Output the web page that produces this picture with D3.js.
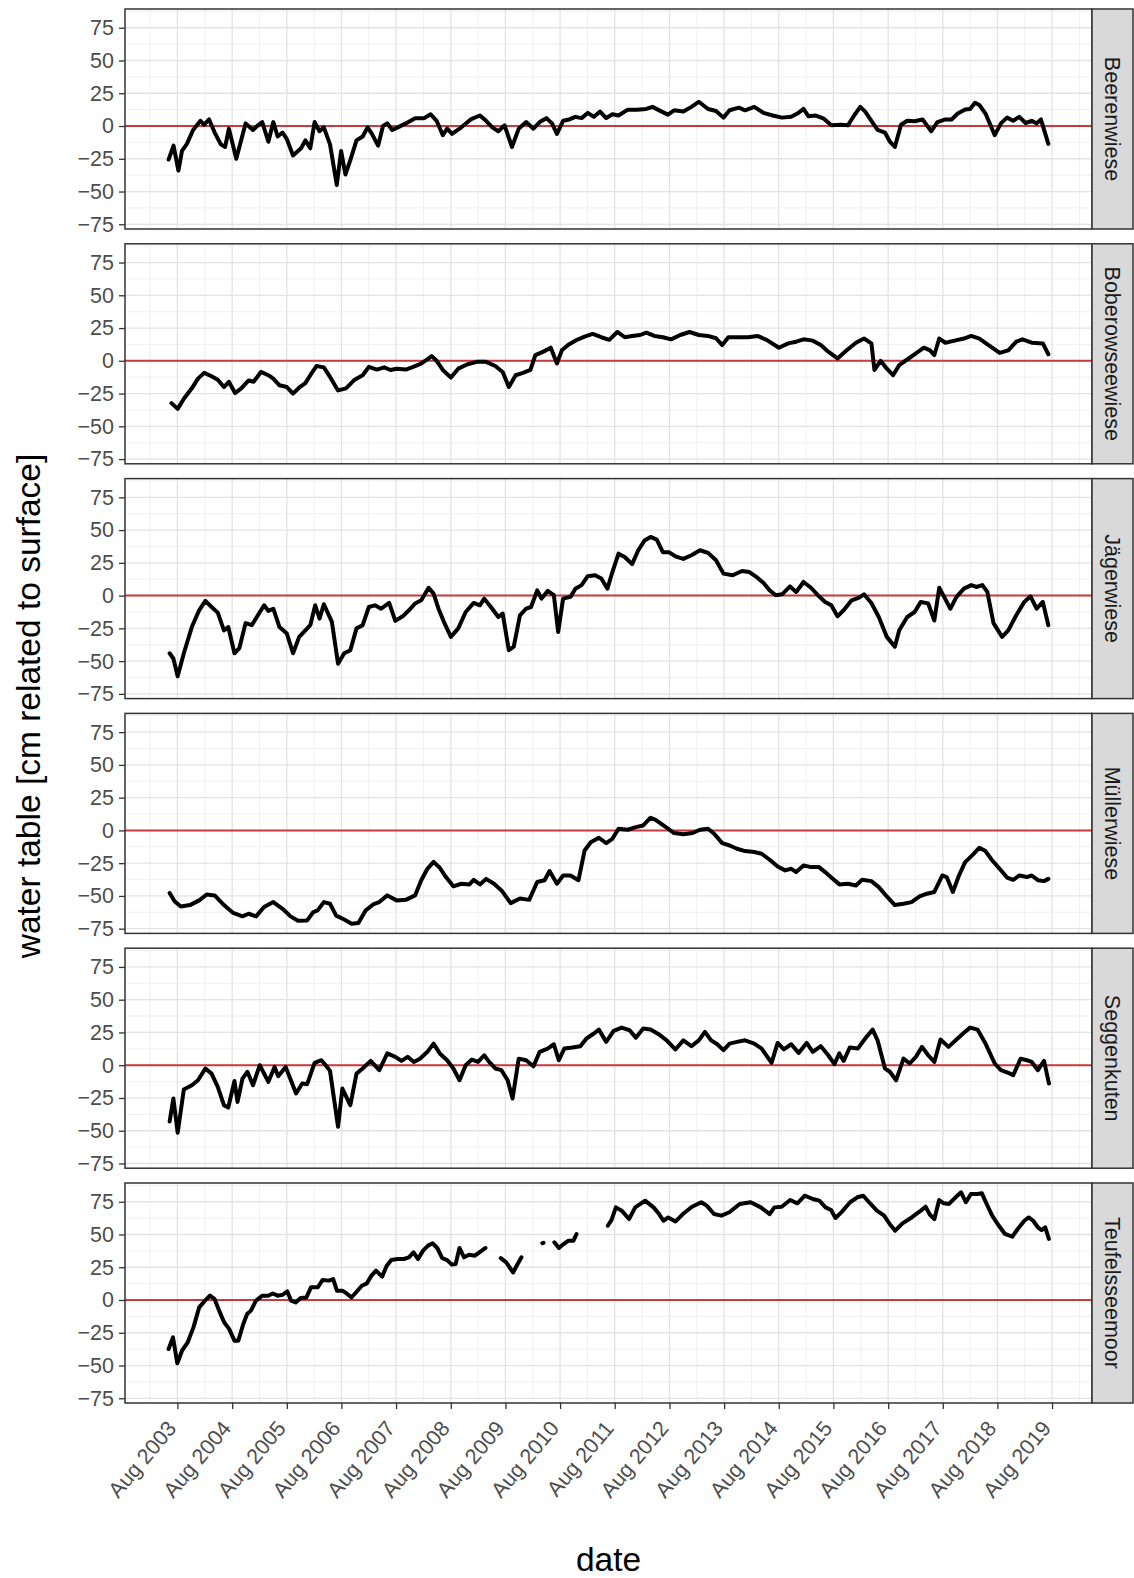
<!DOCTYPE html>
<html>
<head>
<meta charset="utf-8">
<script src="https://cdnjs.cloudflare.com/ajax/libs/d3/7.8.5/d3.min.js"></script>
<style>
  body { margin: 0; background: #ffffff; }
  svg { display: block; font-family: "Liberation Sans", Arial, sans-serif; }
</style>
</head>
<body>
<svg id="chart" width="1134" height="1578"></svg>
<script>
// Sites (facet rows), top to bottom
const sites = ["Beerenwiese", "Boberowseewiese", "Jägerwiese", "Müllerwiese", "Seggenkuten", "Teufelsseemoor"];

// Axis breaks
const yTicks = [-75, -50, -25, 0, 25, 50, 75];
const xTickYears = [2003, 2004, 2005, 2006, 2007, 2008, 2009, 2010, 2011, 2012, 2013, 2014, 2015, 2016, 2017, 2018, 2019];

// Water table series: [decimal year, cm related to surface]; null marks a gap in the record
const beerenwiese = [[2003.42,-25.6],[2003.51,-15],[2003.60,-34],[2003.665,-19],[2003.755,-13.6],[2003.868,-3],[2004.003,4],[2004.071,1],[2004.161,5],[2004.263,-5],[2004.375,-14],[2004.454,-16],[2004.522,-2],[2004.657,-25],[2004.827,2],[2004.962,-3],[2005.052,0.5],[2005.131,3],[2005.244,-12],[2005.334,3],[2005.413,-8],[2005.503,-5],[2005.582,-10],[2005.695,-22.5],[2005.842,-17],[2005.921,-11],[2006.011,-17],[2006.09,3],[2006.18,-4],[2006.259,-1],[2006.372,-14],[2006.496,-45],[2006.575,-19],[2006.654,-37],[2006.744,-26],[2006.857,-11],[2006.97,-8],[2007.06,-1],[2007.139,-6],[2007.252,-15],[2007.342,0],[2007.421,2],[2007.511,-3],[2007.613,-1],[2007.759,2],[2007.929,6],[2008.098,6],[2008.211,9],[2008.323,4],[2008.436,-7],[2008.515,-2],[2008.605,-6],[2008.774,-1],[2008.944,5],[2009.113,8],[2009.226,4],[2009.339,-1],[2009.451,-4],[2009.564,0.5],[2009.7,-16],[2009.824,-2],[2009.959,3],[2010.094,-2],[2010.207,3],[2010.331,6],[2010.433,2],[2010.523,-6],[2010.636,4],[2010.749,5],[2010.861,7],[2010.974,6],[2011.087,10],[2011.2,7],[2011.313,11],[2011.425,6],[2011.538,9],[2011.651,8],[2011.82,12.5],[2011.99,12.5],[2012.159,13],[2012.271,14.6],[2012.44,11],[2012.553,8.7],[2012.666,12],[2012.835,11],[2012.982,14.6],[2013.117,18.5],[2013.287,13],[2013.433,11.5],[2013.569,6.4],[2013.681,12],[2013.851,14],[2013.964,12],[2014.133,14.6],[2014.302,10],[2014.471,8],[2014.64,6.4],[2014.809,7],[2014.922,9.5],[2015.035,13],[2015.125,7.4],[2015.26,8],[2015.407,5.6],[2015.543,0.5],[2015.712,1],[2015.847,0.5],[2015.96,8],[2016.073,14.6],[2016.163,11],[2016.276,4],[2016.389,-3],[2016.524,-5],[2016.614,-12],[2016.704,-16],[2016.817,1],[2016.93,4],[2017.065,3.6],[2017.212,5],[2017.291,0.5],[2017.37,-4],[2017.483,3],[2017.629,5],[2017.742,5],[2017.855,9.5],[2017.99,12.6],[2018.081,13],[2018.171,17.7],[2018.25,16],[2018.363,9.5],[2018.532,-7],[2018.645,2],[2018.757,6.4],[2018.87,4],[2018.983,7],[2019.096,2.3],[2019.209,4],[2019.299,2],[2019.378,5],[2019.513,-13.6]];

const boberowseewiese = [[2003.473,-32.3],[2003.586,-36.7],[2003.699,-29],[2003.845,-21],[2003.958,-13.6],[2004.071,-9.2],[2004.206,-11.8],[2004.319,-14.4],[2004.432,-20],[2004.522,-16],[2004.635,-24.6],[2004.748,-21],[2004.883,-15],[2004.973,-16],[2005.108,-8.5],[2005.244,-11],[2005.334,-13.6],[2005.447,-18.7],[2005.582,-20],[2005.695,-25],[2005.819,-20],[2005.921,-17],[2006.011,-11],[2006.124,-4],[2006.259,-5],[2006.372,-12.3],[2006.519,-22.6],[2006.665,-21],[2006.823,-14.4],[2006.97,-11],[2007.083,-4.6],[2007.229,-6.7],[2007.364,-5],[2007.477,-7],[2007.59,-6],[2007.759,-6.7],[2007.872,-5],[2008.019,-2.6],[2008.132,0.5],[2008.233,3.6],[2008.323,0],[2008.436,-7],[2008.583,-12.8],[2008.718,-6],[2008.887,-2.6],[2009.057,-0.8],[2009.226,-0.8],[2009.395,-4],[2009.53,-8.5],[2009.643,-20],[2009.767,-11],[2009.902,-9.2],[2010.038,-7],[2010.128,4.4],[2010.275,7],[2010.41,10],[2010.523,-2],[2010.613,8],[2010.726,12],[2010.884,15.9],[2011.03,18.5],[2011.177,20.5],[2011.335,18],[2011.481,16],[2011.628,22],[2011.764,18],[2011.899,19],[2012.046,19.7],[2012.159,21.5],[2012.305,19],[2012.463,18],[2012.61,16.4],[2012.779,19.7],[2012.948,22],[2013.117,19.7],[2013.287,19],[2013.433,17.2],[2013.546,12],[2013.659,18],[2013.851,18],[2014.02,18],[2014.19,19],[2014.359,16],[2014.584,10],[2014.754,13.3],[2014.9,14.6],[2015.035,16.4],[2015.204,15.4],[2015.351,12],[2015.487,7],[2015.656,1.8],[2015.825,8],[2015.994,13.8],[2016.141,17],[2016.276,13.3],[2016.332,-7],[2016.445,0],[2016.558,-6],[2016.671,-11],[2016.784,-3.3],[2016.93,1],[2017.088,5.6],[2017.235,10],[2017.347,8],[2017.426,4.4],[2017.516,17],[2017.629,13.8],[2017.798,15.4],[2017.968,17],[2018.103,19],[2018.25,17],[2018.419,12],[2018.622,6],[2018.78,8],[2018.926,14.6],[2019.039,16.4],[2019.209,13.8],[2019.412,13.3],[2019.513,5]];

const jaegerwiese = [[2003.439,-44],[2003.507,-48],[2003.586,-61.5],[2003.699,-44],[2003.845,-24],[2003.981,-11],[2004.093,-4],[2004.206,-8.7],[2004.319,-13],[2004.432,-26.5],[2004.511,-24],[2004.624,-44],[2004.714,-40],[2004.827,-21],[2004.94,-22.6],[2005.052,-15],[2005.165,-7.4],[2005.244,-11.7],[2005.334,-10],[2005.447,-24],[2005.582,-29],[2005.695,-44],[2005.808,-31.5],[2005.921,-26.5],[2006.011,-22.6],[2006.101,-7.4],[2006.18,-17.6],[2006.259,-6.6],[2006.406,-20],[2006.519,-52],[2006.632,-44],[2006.744,-41.7],[2006.857,-25],[2006.97,-22.6],[2007.083,-8.7],[2007.196,-7.4],[2007.308,-10],[2007.455,-5.6],[2007.567,-19.3],[2007.703,-15.8],[2007.816,-11.2],[2007.929,-6],[2008.042,-3.6],[2008.177,6],[2008.267,1.5],[2008.357,-10],[2008.47,-21.4],[2008.583,-31.5],[2008.718,-25],[2008.853,-12.5],[2009.0,-5.6],[2009.113,-7.4],[2009.192,-2.3],[2009.339,-10],[2009.451,-16.3],[2009.53,-13.7],[2009.643,-41.7],[2009.733,-39],[2009.846,-15],[2009.959,-10],[2010.049,-8.7],[2010.162,4],[2010.241,-2.3],[2010.354,3.6],[2010.467,0.3],[2010.546,-27.7],[2010.636,-2.3],[2010.771,-1],[2010.861,5.3],[2010.974,8],[2011.087,14.8],[2011.222,15.6],[2011.335,13],[2011.448,5.3],[2011.538,18],[2011.651,32],[2011.764,29.5],[2011.899,24],[2012.012,34.6],[2012.125,42],[2012.237,44.8],[2012.35,42.7],[2012.463,33],[2012.576,33],[2012.689,30],[2012.835,28],[2012.982,30.8],[2013.14,34.6],[2013.287,32.6],[2013.433,27],[2013.569,16.8],[2013.738,15.5],[2013.907,18.8],[2014.043,18],[2014.19,13.7],[2014.302,9.7],[2014.415,4],[2014.528,0.3],[2014.641,1],[2014.787,7],[2014.9,2.8],[2015.035,10.4],[2015.171,6],[2015.317,-0.5],[2015.43,-4.8],[2015.543,-7.4],[2015.656,-15.8],[2015.769,-11.2],[2015.915,-3.6],[2016.051,-1.5],[2016.141,1],[2016.276,-5.6],[2016.411,-16.3],[2016.558,-31.5],[2016.704,-39],[2016.784,-26.5],[2016.93,-16.3],[2017.065,-12.5],[2017.178,-4.8],[2017.314,-6],[2017.426,-19],[2017.516,6],[2017.606,-1],[2017.719,-10],[2017.832,-1],[2017.968,5.3],[2018.103,8],[2018.193,6.6],[2018.306,8],[2018.396,2.8],[2018.509,-21],[2018.667,-31.5],[2018.78,-26.5],[2018.926,-15],[2019.073,-4.8],[2019.186,-0.5],[2019.299,-10],[2019.412,-4.8],[2019.513,-22.6]];

const muellerwiese = [[2003.439,-47.8],[2003.529,-54],[2003.642,-58],[2003.811,-57],[2003.981,-53.4],[2004.116,-48.9],[2004.263,-49.6],[2004.432,-57],[2004.601,-63],[2004.77,-65.6],[2004.883,-63.6],[2005.018,-65.6],[2005.165,-58.5],[2005.334,-54.7],[2005.503,-59.8],[2005.65,-65.6],[2005.785,-69],[2005.954,-68.7],[2006.067,-62.3],[2006.146,-61],[2006.259,-54.7],[2006.372,-56],[2006.485,-65],[2006.632,-68],[2006.767,-71.2],[2006.891,-70.7],[2007.026,-61],[2007.161,-56.5],[2007.274,-54.7],[2007.421,-49.6],[2007.59,-53.4],[2007.759,-53],[2007.929,-49.6],[2008.042,-38],[2008.154,-29.3],[2008.267,-24],[2008.38,-28.5],[2008.493,-35.6],[2008.628,-42.7],[2008.774,-40.7],[2008.921,-41.2],[2009.0,-37.7],[2009.113,-41.2],[2009.226,-37],[2009.372,-40.7],[2009.508,-45.8],[2009.677,-55.5],[2009.846,-52],[2010.015,-53],[2010.162,-39.4],[2010.297,-38],[2010.388,-31],[2010.523,-40.7],[2010.636,-34.4],[2010.771,-34.4],[2010.918,-38],[2011.03,-15.3],[2011.143,-9],[2011.29,-5.6],[2011.425,-9.7],[2011.538,-6.4],[2011.651,1.3],[2011.82,0.5],[2011.967,2.5],[2012.102,3.8],[2012.237,9.7],[2012.327,8],[2012.497,3],[2012.666,-2],[2012.835,-3],[2013.004,-2],[2013.14,0.5],[2013.287,1.3],[2013.399,-2.5],[2013.546,-9.7],[2013.681,-11.5],[2013.817,-14],[2013.964,-15.8],[2014.133,-16.5],[2014.268,-17.8],[2014.415,-22.4],[2014.561,-27.5],[2014.697,-30.5],[2014.81,-29.3],[2014.9,-31.8],[2015.035,-26.7],[2015.171,-28],[2015.317,-28],[2015.43,-31.8],[2015.543,-36],[2015.69,-41.2],[2015.847,-40.7],[2015.994,-42],[2016.107,-37.7],[2016.276,-38.7],[2016.411,-43.3],[2016.558,-50.4],[2016.704,-57],[2016.862,-56],[2017.009,-54.7],[2017.156,-50.4],[2017.291,-48.3],[2017.426,-47],[2017.573,-34.4],[2017.652,-35.6],[2017.765,-47],[2017.877,-34.4],[2017.99,-24.2],[2018.137,-18.3],[2018.25,-13.2],[2018.363,-15.8],[2018.476,-22.4],[2018.622,-29.3],[2018.757,-36],[2018.87,-37.7],[2018.983,-34.4],[2019.118,-35.6],[2019.209,-34.4],[2019.322,-38],[2019.434,-38.7],[2019.513,-37]];

const seggenkuten = [[2003.439,-43],[2003.507,-25.4],[2003.586,-51.6],[2003.699,-18.6],[2003.845,-15.3],[2003.958,-11.5],[2004.093,-2.5],[2004.206,-6.4],[2004.319,-16.5],[2004.432,-30.5],[2004.511,-32.3],[2004.624,-12],[2004.68,-28],[2004.77,-10.2],[2004.861,-5],[2004.962,-15.3],[2005.086,0],[2005.244,-12.7],[2005.357,-1.3],[2005.424,-8.4],[2005.56,-1.3],[2005.751,-21.6],[2005.864,-14],[2005.954,-14.5],[2006.09,1.8],[2006.214,3.8],[2006.293,0],[2006.372,-4.3],[2006.519,-47],[2006.598,-17.8],[2006.744,-30.5],[2006.857,-6.4],[2006.97,-2.5],[2007.116,3.3],[2007.274,-3.8],[2007.421,9],[2007.567,6.4],[2007.68,3.3],[2007.793,6.4],[2007.906,2.5],[2008.019,5],[2008.154,10.2],[2008.267,16.5],[2008.38,9],[2008.515,3.8],[2008.628,-2.5],[2008.741,-11.5],[2008.853,0],[2008.966,4.3],[2009.079,2.5],[2009.192,7.6],[2009.282,2.5],[2009.395,-2.5],[2009.508,-3.8],[2009.621,-11.5],[2009.711,-25.4],[2009.824,5],[2009.959,3.8],[2010.094,-0.8],[2010.207,10.2],[2010.354,12.7],[2010.467,16],[2010.557,3.8],[2010.658,12.7],[2010.805,13.5],[2010.952,14.5],[2011.064,20.4],[2011.2,24.2],[2011.29,27.2],[2011.425,17.8],[2011.561,26.2],[2011.707,28.7],[2011.854,26.7],[2011.967,21],[2012.102,28],[2012.237,27.2],[2012.384,23.7],[2012.531,19],[2012.689,12],[2012.835,19],[2012.982,14.5],[2013.117,19],[2013.23,25.4],[2013.343,19],[2013.456,16],[2013.569,11.5],[2013.681,16.5],[2013.817,17.8],[2013.964,19],[2014.133,16.5],[2014.268,12.7],[2014.449,1.8],[2014.561,17],[2014.674,12],[2014.81,16],[2014.945,9.4],[2015.092,17],[2015.204,10.2],[2015.351,14.5],[2015.487,7.6],[2015.6,0.8],[2015.69,9],[2015.769,3.3],[2015.881,13.5],[2016.028,12.7],[2016.163,20.4],[2016.299,27.2],[2016.389,19],[2016.524,-2.5],[2016.614,-5],[2016.727,-11.5],[2016.862,5],[2016.975,1.3],[2017.088,6.4],[2017.201,14],[2017.314,7.6],[2017.426,2.5],[2017.539,19.6],[2017.686,14],[2017.832,19.6],[2017.968,24.7],[2018.081,28.7],[2018.216,27.2],[2018.363,16.5],[2018.532,1.3],[2018.645,-3.8],[2018.78,-5.9],[2018.87,-7.6],[2019.006,5],[2019.118,3.8],[2019.209,2.5],[2019.322,-3.8],[2019.434,3.3],[2019.525,-14]];

const teufelsseemoor = [[2003.42,-37.4],[2003.50,-28.5],[2003.58,-48.3],[2003.665,-38.7],[2003.77,-32.3],[2003.875,-20.9],[2003.98,-5.6],[2004.085,-0.5],[2004.176,3.3],[2004.26,0.8],[2004.344,-8.1],[2004.435,-17],[2004.526,-22],[2004.624,-31],[2004.694,-31],[2004.785,-18.3],[2004.855,-10.7],[2004.925,-8.1],[2005.016,-0.5],[2005.135,3.3],[2005.24,3.3],[2005.324,5],[2005.415,3.3],[2005.506,4],[2005.59,6.6],[2005.66,-0.5],[2005.744,-1.8],[2005.835,1.5],[2005.94,2],[2006.024,9.7],[2006.15,9.7],[2006.234,15.3],[2006.346,14.8],[2006.43,16],[2006.5,7],[2006.605,7],[2006.675,5],[2006.766,2],[2006.85,5.9],[2006.955,10.9],[2007.046,12.7],[2007.13,18.6],[2007.214,22.4],[2007.326,17.8],[2007.41,26.2],[2007.494,30.5],[2007.606,31.3],[2007.725,31.3],[2007.816,32.6],[2007.9,36.4],[2007.984,31.3],[2008.075,37.7],[2008.166,41.5],[2008.25,43.3],[2008.334,39.7],[2008.425,32],[2008.516,30.5],[2008.6,27],[2008.67,27.5],[2008.74,39.7],[2008.824,32.6],[2008.915,34.6],[2009.02,33.8],[2009.104,36.4],[2009.216,39.7],[2009.36,null],[2009.496,32],[2009.594,28.7],[2009.72,21],[2009.804,27.5],[2009.874,32.6],[2010.07,null],[2010.255,43.3],[2010.278,43.6],[2010.37,null],[2010.476,44],[2010.56,39.7],[2010.644,42.7],[2010.735,45.3],[2010.826,45.3],[2010.882,50.4],[2011.17,null],[2011.454,56.7],[2011.521,61],[2011.602,70.7],[2011.709,68.2],[2011.843,61.8],[2011.957,70.7],[2012.137,75.8],[2012.291,70.7],[2012.392,65.6],[2012.472,60.5],[2012.559,63],[2012.693,60],[2012.827,65.6],[2012.994,71.2],[2013.162,74.6],[2013.262,72],[2013.396,65.6],[2013.53,64.4],[2013.677,67],[2013.865,73.3],[2014.066,74.6],[2014.253,70.7],[2014.414,65.6],[2014.501,70.7],[2014.635,71.2],[2014.789,76.3],[2014.923,73.8],[2015.057,79.6],[2015.204,77.1],[2015.324,75.8],[2015.438,70.7],[2015.539,68.7],[2015.619,62.6],[2015.726,66.9],[2015.887,74.6],[2016.02,78.4],[2016.128,79.6],[2016.262,73.3],[2016.376,68.2],[2016.509,64.4],[2016.61,58],[2016.71,52.9],[2016.844,58.5],[2017.012,63],[2017.179,68.2],[2017.266,71.2],[2017.346,65.1],[2017.427,61.8],[2017.514,76.3],[2017.601,73.8],[2017.695,73.3],[2017.815,78.4],[2017.916,82.2],[2018.003,74.6],[2018.096,80.9],[2018.217,80.9],[2018.297,81.4],[2018.384,73.3],[2018.485,64.4],[2018.585,58],[2018.719,50.4],[2018.853,48.3],[2018.953,54.2],[2019.074,60.5],[2019.154,63],[2019.235,60.5],[2019.322,55.5],[2019.389,53.4],[2019.456,55.5],[2019.523,46.6]];

const seriesBySite = [beerenwiese, boberowseewiese, jaegerwiese, muellerwiese, seggenkuten, teufelsseemoor];

// ---- layout ----
const panelLeft = 125, panelWidth = 967;
const panelTop = 9, panelHeight = 220, panelStep = 234.8;
const stripWidth = 41;

const tickFont = 21.5, stripFont = 21.5, titleFont = 33.5;
const textGrey = "#4d4d4d";

// decimal year -> UTC date
function yearToDate(v) {
  const yr = Math.floor(v);
  const a = Date.UTC(yr, 0, 1), b = Date.UTC(yr + 1, 0, 1);
  return new Date(a + (v - yr) * (b - a));
}

const svg = d3.select("#chart");

const x = d3.scaleUtc()
  .domain([new Date(Date.UTC(2002, 7, 16)), new Date(Date.UTC(2020, 3, 24))])
  .range([panelLeft, panelLeft + panelWidth]);

const y = d3.scaleLinear()
  .domain([-78.6, 89.3])
  .range([panelHeight, 0]);

const majorX = xTickYears.map(yr => new Date(Date.UTC(yr, 7, 1)));
const minorX = d3.range(xTickYears[0], xTickYears[xTickYears.length - 1] + 2)
  .map(yr => new Date(Date.UTC(yr, 0, 31)))
  .filter(d => d >= x.domain()[0] && d <= x.domain()[1]);
const minorY = [-62.5, -37.5, -12.5, 12.5, 37.5, 62.5, 87.5];

const line = d3.line()
  .defined(d => d[1] !== null)
  .x(d => x(yearToDate(d[0])))
  .y(d => y(d[1]));

sites.forEach((site, i) => {
  const top = panelTop + i * panelStep;
  const g = svg.append("g").attr("transform", `translate(0,${top})`);

  g.append("rect")
    .attr("x", panelLeft).attr("y", 0)
    .attr("width", panelWidth).attr("height", panelHeight)
    .attr("fill", "#ffffff");

  const clipId = "clip" + i;
  g.append("clipPath").attr("id", clipId)
    .append("rect")
    .attr("x", panelLeft).attr("y", 0)
    .attr("width", panelWidth).attr("height", panelHeight);

  const grid = g.append("g").attr("clip-path", `url(#${clipId})`);

  // minor grid
  grid.selectAll(".mgx").data(minorX).join("line")
    .attr("x1", d => x(d)).attr("x2", d => x(d))
    .attr("y1", 0).attr("y2", panelHeight)
    .attr("stroke", "#eeeeee").attr("stroke-width", 0.9);
  grid.selectAll(".mgy").data(minorY).join("line")
    .attr("x1", panelLeft).attr("x2", panelLeft + panelWidth)
    .attr("y1", d => y(d)).attr("y2", d => y(d))
    .attr("stroke", "#eeeeee").attr("stroke-width", 0.9);

  // major grid
  grid.selectAll(".gx").data(majorX).join("line")
    .attr("x1", d => x(d)).attr("x2", d => x(d))
    .attr("y1", 0).attr("y2", panelHeight)
    .attr("stroke", "#e3e3e3").attr("stroke-width", 1.3);
  grid.selectAll(".gy").data(yTicks).join("line")
    .attr("x1", panelLeft).attr("x2", panelLeft + panelWidth)
    .attr("y1", d => y(d)).attr("y2", d => y(d))
    .attr("stroke", "#e3e3e3").attr("stroke-width", 1.3);

  // surface reference line
  grid.append("line")
    .attr("x1", panelLeft).attr("x2", panelLeft + panelWidth)
    .attr("y1", y(0)).attr("y2", y(0))
    .attr("stroke", "#c9393e").attr("stroke-width", 2);

  // water table
  grid.append("path")
    .datum(seriesBySite[i])
    .attr("d", line)
    .attr("fill", "none")
    .attr("stroke", "#000000")
    .attr("stroke-width", 4)
    .attr("stroke-linejoin", "round")
    .attr("stroke-linecap", "round");

  // panel border
  g.append("rect")
    .attr("x", panelLeft).attr("y", 0)
    .attr("width", panelWidth).attr("height", panelHeight)
    .attr("fill", "none").attr("stroke", "#333333").attr("stroke-width", 1.5);

  // y axis
  const yAxis = d3.axisLeft(y).tickValues(yTicks).tickSize(6).tickPadding(5).tickFormat(d3.format("d"));
  const ya = g.append("g").attr("transform", `translate(${panelLeft},0)`).call(yAxis);
  ya.select(".domain").remove();
  ya.selectAll(".tick line").attr("stroke", "#333333").attr("stroke-width", 1.3);
  ya.selectAll(".tick text")
    .attr("fill", textGrey)
    .attr("font-size", tickFont)
    .attr("font-family", "Liberation Sans, Arial, sans-serif");

  // strip
  const sx = panelLeft + panelWidth;
  g.append("rect")
    .attr("x", sx).attr("y", 0)
    .attr("width", stripWidth).attr("height", panelHeight)
    .attr("fill", "#d9d9d9").attr("stroke", "#333333").attr("stroke-width", 1.5);
  g.append("text")
    .attr("transform", `translate(${sx + stripWidth / 2},${panelHeight / 2}) rotate(90)`)
    .attr("text-anchor", "middle")
    .attr("dy", "0.35em")
    .attr("fill", "#1a1a1a")
    .attr("font-size", stripFont)
    .text(site);
});

// x axis under the last panel
const bottom = panelTop + (sites.length - 1) * panelStep + panelHeight;
const xAxis = d3.axisBottom(x).tickValues(majorX).tickSize(6).tickFormat(d3.utcFormat("%b %Y"));
const xa = svg.append("g").attr("transform", `translate(0,${bottom})`).call(xAxis);
xa.select(".domain").remove();
xa.selectAll(".tick line").attr("stroke", "#333333").attr("stroke-width", 1.3);
xa.selectAll(".tick text")
  .attr("fill", textGrey)
  .attr("font-size", tickFont)
  .attr("font-family", "Liberation Sans, Arial, sans-serif")
  .attr("text-anchor", "end")
  .attr("y", 0).attr("dy", 0)
  .attr("transform", "translate(-12,16) rotate(-50)")
  .attr("dominant-baseline", "hanging");

// axis titles
svg.append("text")
  .attr("x", panelLeft + panelWidth / 2)
  .attr("y", 1571)
  .attr("text-anchor", "middle")
  .attr("font-size", titleFont)
  .attr("fill", "#000000")
  .text("date");

svg.append("text")
  .attr("transform", `translate(40,${(panelTop + bottom) / 2}) rotate(-90)`)
  .attr("text-anchor", "middle")
  .attr("font-size", titleFont)
  .attr("fill", "#000000")
  .text("water table [cm related to surface]");
</script>
</body>
</html>
